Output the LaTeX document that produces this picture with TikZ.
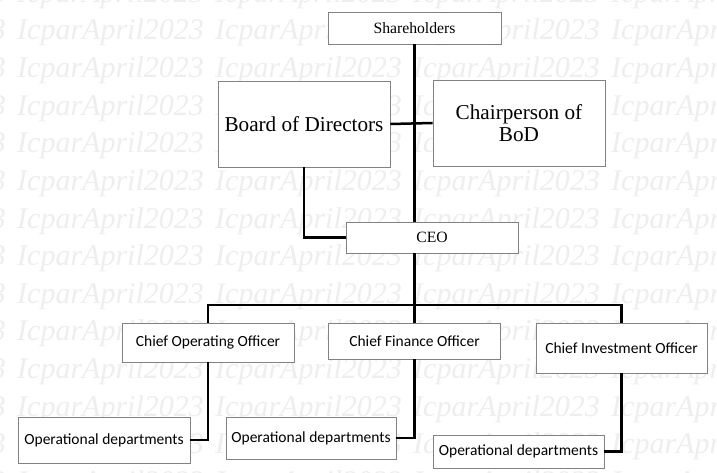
\documentclass[tikz,border=0pt]{standalone}
\usepackage{fontspec}
\setmainfont{Liberation Serif}
\newfontfamily\sansf{Carlito}
\definecolor{wm}{RGB}{238,238,238}
\definecolor{boxline}{RGB}{130,130,130}
\tikzset{
  box/.style={draw=boxline, line width=0.8pt, fill=white, inner sep=0pt, align=center},
  serifsm/.style={box, font=\fontsize{15.7}{18}\selectfont},
  seriflg/.style={box, font=\fontsize{21.2}{22}\selectfont},
  sansbox/.style={box, font=\sansf\fontsize{15.5}{18}\selectfont},
  conn/.style={line width=2.5pt, black},
  wmtext/.style={text=wm, font=\itshape\fontsize{30}{30}\selectfont, inner sep=0pt, anchor=base west}
}
\begin{document}
\begin{tikzpicture}[x=1pt,y=-1pt]
\useasboundingbox (0,0) rectangle (717,473);
\clip (0,0) rectangle (717,473);
\fill[white] (0,0) rectangle (717,473);
% watermark
\foreach \r in {-1,0,...,12}{
  \foreach \c in {-1,0,...,3}{
    \node[wmtext] (wm-\r-\c) at ({17+198*\c},{40+37.6*\r}) {IcparApril2023};
  }
}
% boxes
\node[serifsm, minimum width=173pt, minimum height=32pt] (sh) at (414.5,28) {Shareholders};
\node[seriflg, minimum width=172pt, minimum height=86pt] (bod) at (304,124) {Board of Directors};
\node[seriflg, minimum width=172pt, minimum height=86pt] (chair) at (519,123) {Chairperson of\\BoD};
\node[serifsm, minimum width=172pt, minimum height=31pt] (ceo) at (432,237.5) {CEO};
\node[sansbox, minimum width=172pt, minimum height=39pt] (coo) at (208,342.5) {Chief Operating Officer};
\node[sansbox, minimum width=172pt, minimum height=36pt] (cfo) at (414.5,341) {Chief Finance Officer};
\node[sansbox, minimum width=171pt, minimum height=50pt] (cio) at (621.5,348) {Chief Investment Officer};
\node[sansbox, minimum width=172pt, minimum height=46pt] (od1) at (104,440) {Operational departments};
\node[sansbox, minimum width=170pt, minimum height=42pt] (od2) at (311,438) {Operational departments};
\node[sansbox, minimum width=171pt, minimum height=33pt] (od3) at (518.5,451.5) {Operational departments};
% connectors
\coordinate (bar) at (414.5,305);
\draw[conn] (sh.south) -- (sh.south |- ceo.north);
\draw[conn] (bod.east) -- (chair.west);
\draw[conn] (bod.south) |- (ceo.west);
\draw[conn] (sh.south |- ceo.south) -- (cfo.north);
\draw[conn] (coo.north) -- (coo.north |- bar) -- (cio.north |- bar) -- (cio.north);
\draw[conn] (coo.south) |- (od1.east);
\draw[conn] (cfo.south) |- (od2.east);
\draw[conn] (cio.south) |- (od3.east);
\end{tikzpicture}
\end{document}
